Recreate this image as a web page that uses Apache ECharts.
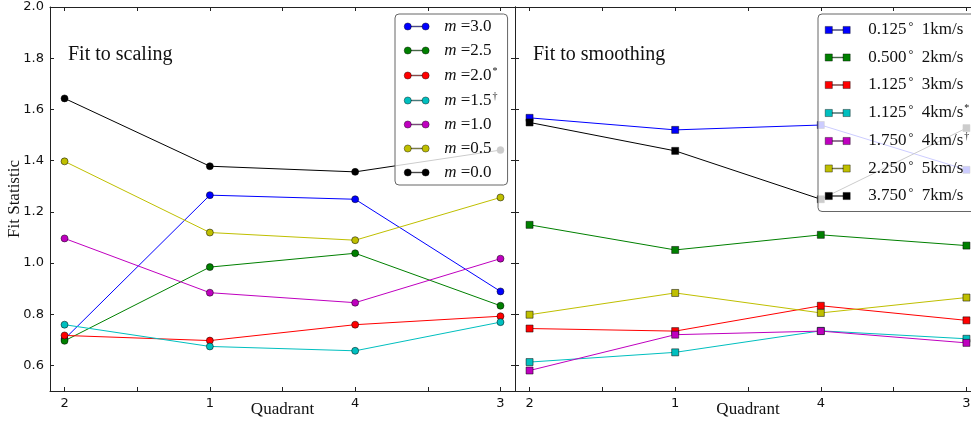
<!DOCTYPE html>
<html>
<head>
<meta charset="utf-8">
<script src="https://cdn.jsdelivr.net/npm/echarts@6/dist/echarts.min.js"></script>
<style>html,body{margin:0;padding:0;background:#fff}#c{width:971px;height:424px}</style>
</head>
<body>
<div id="c"></div>
<script>
// Quadrant order along the x axis
const quadrants = ['2', '1', '4', '3'];
const yTicks = [0.6, 0.8, 1.0, 1.2, 1.4, 1.6, 1.8, 2.0];

// Left panel: fit to scaling, one line per exponent m
const scalingNames = ['m=3.0', 'm=2.5', 'm=2.0*', 'm=1.5\u2020', 'm=1.0', 'm=0.5', 'm=0.0'];
const scaling_m30 = [0.703, 1.265, 1.249, 0.889];
const scaling_m25 = [0.696, 0.984, 1.038, 0.833];
const scaling_m20 = [0.717, 0.697, 0.759, 0.792];
const scaling_m15 = [0.759, 0.674, 0.657, 0.769];
const scaling_m10 = [1.096, 0.884, 0.845, 1.017];
const scaling_m05 = [1.397, 1.119, 1.089, 1.256];
const scaling_m00 = [1.643, 1.378, 1.356, 1.441];

// Right panel: fit to smoothing, one line per kernel width / velocity
const smoothingNames = ['0.125\u00b0 1km/s', '0.500\u00b0 2km/s', '1.125\u00b0 3km/s', '1.125\u00b0 4km/s*',
  '1.750\u00b0 4km/s\u2020', '2.250\u00b0 5km/s', '3.750\u00b0 7km/s'];
const smooth_0125 = [1.567, 1.520, 1.539, 1.364];
const smooth_0500 = [1.149, 1.051, 1.110, 1.068];
const smooth_1125a = [0.744, 0.734, 0.833, 0.776];
const smooth_1125b = [0.613, 0.651, 0.735, 0.704];
const smooth_1750 = [0.580, 0.720, 0.734, 0.688];
const smooth_2250 = [0.798, 0.883, 0.805, 0.865];
const smooth_3750 = [1.549, 1.438, 1.249, 1.527];

const colors = ['#0000ff', '#008000', '#ff0000', '#00bfbf', '#bf00bf', '#bfbf00', '#000000'];
const scalingData = [scaling_m30, scaling_m25, scaling_m20, scaling_m15, scaling_m10, scaling_m05, scaling_m00];
const smoothingData = [smooth_0125, smooth_0500, smooth_1125a, smooth_1125b, smooth_1750, smooth_2250, smooth_3750];

const serif = '"Liberation Serif", "DejaVu Serif", serif';
const sans = '"DejaVu Sans", sans-serif';
const axisColor = '#222';

function xAxes(gridIndex, bottom) {
  const ax = {
    type: 'value', gridIndex: gridIndex, position: bottom ? 'bottom' : 'top',
    min: -0.1, max: 3.1,
    splitLine: { show: false },
    axisLine: { show: true, onZero: false, lineStyle: { color: axisColor, width: 1 } },
    axisTick: { show: true, inside: true, length: 4, customValues: [0, 0.5, 1, 1.5, 2, 2.5, 3],
      lineStyle: { color: axisColor } },
    axisLabel: { show: false }
  };
  if (bottom) {
    ax.axisLabel = {
      show: true, customValues: [0, 1, 2, 3], margin: 6,
      formatter: v => quadrants[Math.round(v)],
      color: '#111', fontFamily: sans, fontSize: 13
    };
    ax.name = 'Quadrant';
    ax.nameLocation = 'middle';
    ax.nameGap = 10;
    ax.nameMoveOverlap = false;
    ax.nameTextStyle = { fontFamily: serif, fontSize: 17, color: '#111', verticalAlign: 'top' };
  }
  return ax;
}

function yAxes(gridIndex, left, labels) {
  const ax = {
    type: 'value', gridIndex: gridIndex, position: left ? 'left' : 'right',
    min: 0.5, max: 2.0,
    splitLine: { show: false },
    axisLine: { show: true, onZero: false, lineStyle: { color: axisColor, width: 1 } },
    axisTick: { show: true, inside: true, length: 4, customValues: yTicks, lineStyle: { color: axisColor } },
    axisLabel: { show: false }
  };
  if (labels) {
    ax.axisLabel = {
      show: true, customValues: yTicks, margin: 6,
      formatter: v => v.toFixed(1), color: '#111', fontFamily: sans, fontSize: 13
    };
    ax.name = 'Fit Statistic';
    ax.nameLocation = 'middle';
    ax.nameGap = 27;
    ax.nameRotate = 90;
    ax.nameMoveOverlap = false;
    ax.nameTextStyle = { fontFamily: serif, fontSize: 17, color: '#111' };
  }
  return ax;
}

const series = [];
scalingNames.forEach((name, k) => {
  series.push({
    name: name, type: 'line', xAxisIndex: 0, yAxisIndex: 0,
    data: scalingData[k].map((v, i) => [i, v]),
    symbol: 'circle', symbolSize: 7, z: 2 + k * 0.01,
    lineStyle: { color: colors[k], width: 1 },
    itemStyle: { color: colors[k], borderColor: '#000', borderWidth: 0.5 },
    emphasis: { disabled: true }
  });
});
smoothingNames.forEach((name, k) => {
  series.push({
    name: name, type: 'line', xAxisIndex: 2, yAxisIndex: 2,
    data: smoothingData[k].map((v, i) => [i, v]),
    symbol: 'rect', symbolSize: 7, z: 2 + k * 0.01,
    lineStyle: { color: colors[k], width: 1 },
    itemStyle: { color: colors[k], borderColor: '#000', borderWidth: 0.5 },
    emphasis: { disabled: true }
  });
});

const circleIcon = 'path://M0,4A4,4 0 1,1 8,4A4,4 0 1,1 0,4Z M8,3.6L20,3.6L20,4.4L8,4.4Z M20,4A4,4 0 1,1 28,4A4,4 0 1,1 20,4Z';
const squareIcon = 'path://M0,0L8,0L8,8L0,8Z M8,3.6L20,3.6L20,4.4L8,4.4Z M20,0L28,0L28,8L20,8Z';

const legendBase = {
  orient: 'vertical', selectedMode: false, itemWidth: 25, itemHeight: 8,
  backgroundColor: 'rgba(255,255,255,0.8)', borderColor: '#666', borderWidth: 1, borderRadius: 4,
  itemStyle: { borderColor: '#000', borderWidth: 0.4 },
  textStyle: { color: '#111', fontFamily: serif, fontSize: 17 }
};

const option = {
  animation: false,
  backgroundColor: '#fff',
  title: [
    { text: 'Fit to scaling', left: 63, top: 40, textStyle: { fontFamily: serif, fontSize: 20, fontWeight: 'normal', color: '#111' } },
    { text: 'Fit to smoothing', left: 528, top: 40, textStyle: { fontFamily: serif, fontSize: 20, fontWeight: 'normal', color: '#111' } }
  ],
  grid: [
    { left: 50, top: 7, width: 465, height: 384, outerBoundsMode: 'none', containLabel: false },
    { left: 515, top: 7, width: 466, height: 384, outerBoundsMode: 'none', containLabel: false }
  ],
  xAxis: [xAxes(0, true), xAxes(0, false), xAxes(1, true), xAxes(1, false)],
  yAxis: [yAxes(0, true, true), yAxes(0, false, false), yAxes(1, true, false), yAxes(1, false, false)],
  legend: [
    Object.assign({}, legendBase, {
      data: scalingNames, left: 395, top: 14, padding: [4, 10, 4, 9], itemGap: 7, icon: circleIcon,
      formatter: name => {
        const m = name.match(/^m=([\d.]+)(.?)$/);
        return '{i|m}{n| =' + m[1] + '}' + (m[2] ? '{s|' + m[2] + '}' : '');
      },
      textStyle: Object.assign({}, legendBase.textStyle, {
        rich: {
          i: { fontFamily: serif, fontStyle: 'italic', fontSize: 17, color: '#111', padding: [0, 0, 0, 10] },
          n: { fontFamily: serif, fontSize: 17, color: '#111' },
          s: { fontFamily: serif, fontSize: 10, color: '#111', padding: [0, 0, 9, 1] }
        }
      })
    }),
    Object.assign({}, legendBase, {
      data: smoothingNames, left: 818, top: 14, padding: [7, 20, 7, 7], itemGap: 10, icon: squareIcon,
      formatter: name => {
        const m = name.match(/^([\d.]+)\u00b0 (\d+km\/s)(.?)$/);
        return '{f|' + m[1] + '}{d|\u00b0}{n|  ' + m[2] + '}' + (m[3] ? '{s|' + m[3] + '}' : '');
      },
      textStyle: Object.assign({}, legendBase.textStyle, {
        rich: {
          f: { fontFamily: serif, fontSize: 17, color: '#111', padding: [0, 0, 0, 13] },
          n: { fontFamily: serif, fontSize: 17, color: '#111' },
          d: { fontFamily: serif, fontSize: 12, color: '#111', padding: [0, 0, 6, 2] },
          s: { fontFamily: serif, fontSize: 10, color: '#111', padding: [0, 0, 9, 1] }
        }
      })
    })
  ],
  series: series
};

const chart = echarts.init(document.getElementById('c'), null, { renderer: 'canvas' });
chart.setOption(option);
</script>
</body>
</html>
